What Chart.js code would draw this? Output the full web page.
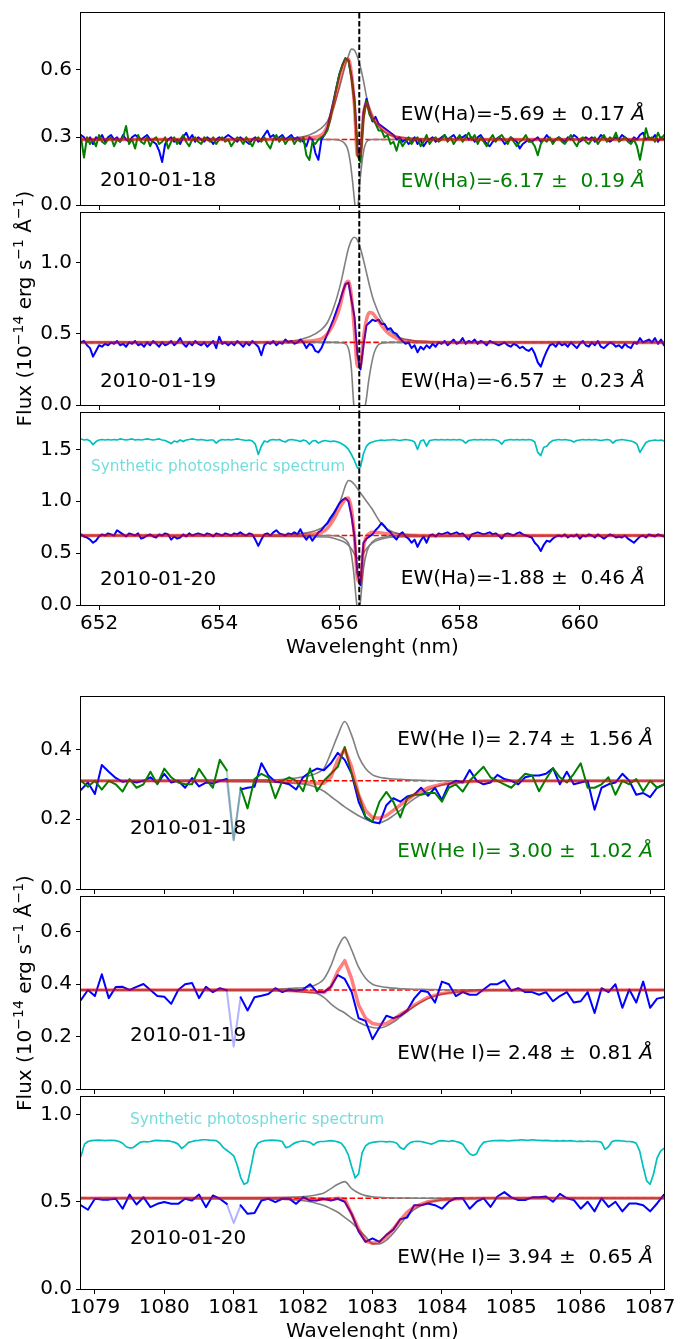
<!DOCTYPE html>
<html>
<head>
<meta charset="utf-8">
<script src="https://cdn.jsdelivr.net/npm/chart.js@4.4.0/dist/chart.umd.min.js"></script>
<style>
  body { margin: 0; background: #fff; width: 680px; height: 1339px; position: relative; overflow: hidden; }
  canvas { position: absolute; left: 0; }
</style>
</head>
<body>
<canvas id="p1" width="680" height="218" style="top:1px"></canvas>
<canvas id="p3" width="680" height="259" style="top:401px"></canvas>
<canvas id="p2" width="680" height="282" style="top:173px"></canvas>
<canvas id="p4" width="680" height="218" style="top:685px"></canvas>
<canvas id="p6" width="680" height="258" style="top:1085px"></canvas>
<canvas id="p5" width="680" height="282" style="top:857px"></canvas>
<script>
// ---- axes ----
const haRange = [651.70, 661.40];
const heRange = [1078.8, 1087.2];
const haTicks = [652, 654, 656, 658, 660];
const heTicks = [1079, 1080, 1081, 1082, 1083, 1084, 1085, 1086, 1087];
const yRanges = [[0, 0.85], [0, 1.35], [0, 1.85], [0, 0.55], [0, 0.733], [0, 1.1]];
const yTicks = [[0, 0.3, 0.6], [0, 0.5, 1.0], [0, 0.5, 1.0, 1.5], [0, 0.2, 0.4], [0, 0.2, 0.4, 0.6], [0, 0.5, 1.0]];
const haRest = 656.33;
const heMask = [1080.95, 1081.05];
const haCont = [0.29, 0.44, 0.67];
const heCont = [0.31, 0.378, 0.52];

// ---- H-alpha spectra (nm) ----
const haWave = [
  651.70,651.75,651.80,651.85,651.90,651.95,652.00,652.05,652.10,652.15,
  652.20,652.25,652.30,652.35,652.40,652.45,652.50,652.55,652.60,652.65,
  652.70,652.75,652.80,652.85,652.90,652.95,653.00,653.05,653.10,653.15,
  653.20,653.25,653.30,653.35,653.40,653.45,653.50,653.55,653.60,653.65,
  653.70,653.75,653.80,653.85,653.90,653.95,654.00,654.05,654.10,654.15,
  654.20,654.25,654.30,654.35,654.40,654.45,654.50,654.55,654.60,654.65,
  654.70,654.75,654.80,654.85,654.90,654.95,655.00,655.05,655.10,655.15,
  655.20,655.25,655.30,655.35,655.40,655.45,655.50,655.55,655.60,655.65,
  655.70,655.75,655.80,655.85,655.90,655.95,656.00,656.05,656.10,656.15,
  656.20,656.25,656.30,656.35,656.40,656.45,656.50,656.55,656.60,656.65,
  656.70,656.75,656.80,656.85,656.90,656.95,657.00,657.05,657.10,657.15,
  657.20,657.25,657.30,657.35,657.40,657.45,657.50,657.55,657.60,657.65,
  657.70,657.75,657.80,657.85,657.90,657.95,658.00,658.05,658.10,658.15,
  658.20,658.25,658.30,658.35,658.40,658.45,658.50,658.55,658.60,658.65,
  658.70,658.75,658.80,658.85,658.90,658.95,659.00,659.05,659.10,659.15,
  659.20,659.25,659.30,659.35,659.40,659.45,659.50,659.55,659.60,659.65,
  659.70,659.75,659.80,659.85,659.90,659.95,660.00,660.05,660.10,660.15,
  660.20,660.25,660.30,660.35,660.40,660.45,660.50,660.55,660.60,660.65,
  660.70,660.75,660.80,660.85,660.90,660.95,661.00,661.05,661.10,661.15,
  661.20,661.25,661.30,661.35,661.40
];
const ha18Blue = [
  0.31,0.30,0.28,0.30,0.27,0.30,0.29,0.31,0.28,0.30,
  0.31,0.29,0.30,0.28,0.31,0.29,0.28,0.30,0.31,0.30,
  0.29,0.30,0.31,0.29,0.28,0.27,0.24,0.19,0.27,0.29,
  0.30,0.28,0.29,0.27,0.30,0.32,0.29,0.31,0.28,0.30,
  0.29,0.28,0.30,0.29,0.27,0.29,0.30,0.29,0.30,0.31,
  0.30,0.29,0.28,0.30,0.29,0.28,0.27,0.29,0.30,0.28,
  0.29,0.31,0.33,0.30,0.31,0.29,0.30,0.31,0.29,0.30,
  0.31,0.29,0.30,0.29,0.28,0.26,0.30,0.29,0.23,0.20,
  0.29,0.31,0.34,0.40,0.46,0.52,0.58,0.62,0.65,0.64,
  0.57,0.47,0.25,0.21,0.41,0.47,0.41,0.37,0.39,0.36,
  0.35,0.34,0.33,0.32,0.31,0.29,0.30,0.28,0.29,0.27,
  0.28,0.30,0.27,0.29,0.26,0.28,0.29,0.30,0.28,0.29,
  0.30,0.31,0.29,0.30,0.31,0.29,0.30,0.30,0.31,0.29,
  0.30,0.28,0.30,0.31,0.29,0.27,0.26,0.28,0.29,0.30,
  0.29,0.27,0.28,0.30,0.29,0.28,0.25,0.27,0.28,0.29,
  0.28,0.29,0.30,0.28,0.29,0.31,0.29,0.28,0.29,0.30,
  0.29,0.28,0.30,0.29,0.31,0.30,0.28,0.29,0.30,0.29,
  0.30,0.28,0.29,0.31,0.30,0.29,0.28,0.29,0.30,0.29,
  0.31,0.30,0.29,0.28,0.30,0.29,0.31,0.32,0.29,0.30,
  0.29,0.31,0.28,0.30,0.29
];
const ha18Green = [
  0.30,0.21,0.30,0.27,0.29,0.26,0.31,0.28,0.27,0.29,
  0.30,0.26,0.29,0.28,0.30,0.35,0.27,0.29,0.25,0.31,
  0.28,0.27,0.30,0.26,0.29,0.30,0.27,0.28,0.30,0.25,
  0.28,0.30,0.27,0.29,0.31,0.28,0.26,0.29,0.30,0.28,
  0.27,0.30,0.29,0.28,0.30,0.27,0.29,0.30,0.28,0.29,
  0.26,0.28,0.30,0.29,0.27,0.30,0.28,0.26,0.29,0.30,
  0.28,0.30,0.27,0.25,0.29,0.31,0.28,0.30,0.27,0.29,
  0.30,0.27,0.29,0.28,0.30,0.22,0.20,0.28,0.27,0.29,
  0.30,0.31,0.33,0.38,0.45,0.52,0.58,0.62,0.65,0.64,
  0.56,0.45,0.22,0.19,0.38,0.46,0.40,0.38,0.36,0.33,
  0.33,0.30,0.31,0.27,0.28,0.24,0.29,0.26,0.28,0.30,
  0.27,0.29,0.30,0.26,0.28,0.31,0.27,0.29,0.30,0.28,
  0.29,0.31,0.28,0.30,0.27,0.29,0.31,0.28,0.30,0.32,
  0.29,0.31,0.27,0.30,0.28,0.26,0.29,0.31,0.28,0.30,
  0.31,0.29,0.27,0.30,0.28,0.26,0.28,0.29,0.31,0.28,
  0.28,0.26,0.22,0.27,0.29,0.28,0.30,0.27,0.29,0.30,
  0.28,0.27,0.29,0.31,0.28,0.26,0.29,0.30,0.28,0.27,
  0.29,0.30,0.27,0.29,0.31,0.28,0.30,0.29,0.32,0.28,
  0.29,0.30,0.28,0.27,0.29,0.26,0.20,0.27,0.34,0.29,
  0.30,0.28,0.32,0.29,0.31
];
const ha19Blue = [
  0.44,0.45,0.42,0.40,0.34,0.38,0.42,0.41,0.43,0.42,
  0.44,0.43,0.45,0.42,0.43,0.41,0.44,0.43,0.45,0.42,
  0.43,0.41,0.44,0.42,0.45,0.43,0.41,0.44,0.42,0.43,
  0.45,0.42,0.44,0.47,0.43,0.41,0.44,0.42,0.45,0.43,
  0.42,0.44,0.41,0.43,0.45,0.40,0.48,0.43,0.44,0.42,
  0.44,0.42,0.45,0.43,0.41,0.44,0.42,0.45,0.43,0.41,
  0.35,0.42,0.44,0.43,0.45,0.42,0.44,0.43,0.46,0.44,
  0.45,0.43,0.44,0.46,0.44,0.40,0.43,0.42,0.38,0.37,
  0.40,0.45,0.50,0.55,0.60,0.66,0.72,0.79,0.85,0.86,
  0.74,0.62,0.35,0.25,0.42,0.56,0.58,0.60,0.59,0.60,
  0.57,0.57,0.53,0.54,0.51,0.50,0.47,0.45,0.43,0.44,
  0.40,0.42,0.37,0.41,0.39,0.42,0.40,0.43,0.41,0.44,
  0.43,0.45,0.42,0.44,0.46,0.43,0.44,0.47,0.43,0.45,
  0.44,0.46,0.43,0.45,0.44,0.42,0.45,0.44,0.43,0.42,
  0.43,0.44,0.42,0.41,0.43,0.42,0.40,0.41,0.39,0.38,
  0.40,0.36,0.30,0.27,0.33,0.38,0.42,0.43,0.41,0.44,
  0.42,0.43,0.41,0.44,0.42,0.40,0.43,0.45,0.42,0.41,
  0.44,0.42,0.45,0.41,0.40,0.42,0.44,0.43,0.41,0.42,
  0.40,0.43,0.41,0.40,0.44,0.43,0.47,0.44,0.45,0.46,
  0.44,0.47,0.43,0.46,0.42
];
const ha20Blue = [
  0.68,0.66,0.65,0.63,0.60,0.62,0.66,0.68,0.67,0.69,
  0.68,0.67,0.72,0.70,0.68,0.66,0.69,0.68,0.67,0.69,
  0.64,0.65,0.67,0.68,0.66,0.65,0.68,0.67,0.69,0.68,
  0.63,0.66,0.64,0.65,0.68,0.66,0.69,0.67,0.68,0.69,
  0.68,0.67,0.69,0.68,0.66,0.69,0.68,0.67,0.69,0.68,
  0.67,0.69,0.68,0.70,0.68,0.67,0.69,0.68,0.63,0.57,
  0.63,0.68,0.69,0.67,0.70,0.72,0.69,0.68,0.67,0.69,
  0.68,0.70,0.68,0.73,0.67,0.63,0.67,0.62,0.66,0.70,
  0.72,0.76,0.79,0.84,0.88,0.93,0.98,1.01,1.03,1.00,
  0.86,0.66,0.30,0.19,0.60,0.64,0.66,0.68,0.72,0.75,
  0.79,0.76,0.72,0.70,0.66,0.63,0.68,0.70,0.66,0.64,
  0.60,0.63,0.56,0.62,0.66,0.60,0.67,0.68,0.66,0.69,
  0.68,0.69,0.70,0.68,0.69,0.70,0.68,0.69,0.66,0.63,
  0.68,0.69,0.70,0.69,0.68,0.69,0.70,0.68,0.69,0.67,
  0.64,0.68,0.69,0.68,0.67,0.69,0.70,0.68,0.67,0.66,
  0.65,0.60,0.57,0.52,0.58,0.62,0.61,0.64,0.66,0.67,
  0.66,0.68,0.65,0.67,0.66,0.68,0.64,0.67,0.66,0.68,
  0.67,0.65,0.68,0.66,0.64,0.66,0.68,0.67,0.65,0.66,
  0.65,0.67,0.64,0.62,0.60,0.63,0.66,0.67,0.65,0.68,
  0.67,0.66,0.68,0.67,0.66
];
const ha20Synth = [
  1.60,1.59,1.595,1.58,1.545,1.575,1.59,1.595,1.59,1.595,
  1.59,1.595,1.59,1.60,1.595,1.59,1.595,1.60,1.59,1.595,
  1.59,1.595,1.60,1.595,1.59,1.595,1.60,1.59,1.585,1.57,
  1.555,1.58,1.57,1.59,1.575,1.59,1.595,1.60,1.595,1.59,
  1.595,1.59,1.585,1.59,1.59,1.56,1.585,1.595,1.59,1.595,
  1.59,1.595,1.60,1.595,1.59,1.585,1.59,1.58,1.55,1.45,
  1.53,1.58,1.57,1.59,1.595,1.59,1.595,1.58,1.57,1.59,
  1.595,1.59,1.585,1.575,1.59,1.58,1.55,1.58,1.585,1.56,
  1.575,1.585,1.58,1.575,1.58,1.575,1.565,1.55,1.53,1.50,
  1.45,1.39,1.32,1.33,1.46,1.53,1.56,1.57,1.58,1.585,
  1.59,1.585,1.59,1.59,1.595,1.59,1.585,1.59,1.595,1.59,
  1.585,1.57,1.50,1.58,1.59,1.53,1.585,1.59,1.595,1.59,
  1.595,1.59,1.595,1.59,1.595,1.59,1.595,1.585,1.56,1.585,
  1.59,1.595,1.59,1.595,1.59,1.595,1.59,1.595,1.59,1.58,
  1.55,1.585,1.59,1.595,1.59,1.595,1.59,1.595,1.59,1.595,
  1.59,1.57,1.47,1.44,1.52,1.53,1.565,1.585,1.59,1.595,
  1.59,1.595,1.59,1.585,1.57,1.585,1.59,1.595,1.59,1.595,
  1.59,1.595,1.59,1.585,1.59,1.595,1.59,1.56,1.585,1.59,
  1.595,1.59,1.585,1.58,1.57,1.55,1.47,1.52,1.565,1.58,
  1.585,1.59,1.585,1.59,1.58
];

// ---- H-alpha fits and components ----
const haFitWave = [651.70, 654.50, 655.20, 655.50, 655.70, 655.80, 655.90, 656.00, 656.05, 656.10,
  656.15, 656.20, 656.25, 656.30, 656.35, 656.40, 656.45, 656.50, 656.55, 656.60,
  656.70, 656.80, 656.90, 657.00, 657.20, 657.50, 658.00, 661.40];
const ha18Fit = [0.29, 0.29, 0.292, 0.298, 0.31, 0.35, 0.44, 0.55, 0.60, 0.64, 0.645, 0.58, 0.44, 0.22,
  0.23, 0.40, 0.45, 0.42, 0.39, 0.37, 0.34, 0.32, 0.305, 0.298, 0.292, 0.29, 0.29, 0.29];
const ha18Emis = [0.29, 0.29, 0.295, 0.31, 0.34, 0.37, 0.43, 0.52, 0.57, 0.62, 0.66, 0.69, 0.685, 0.655,
  0.61, 0.55, 0.48, 0.43, 0.39, 0.365, 0.335, 0.315, 0.305, 0.30, 0.295, 0.292, 0.29, 0.29];
const ha18AbsWave = [651.70, 655.90, 656.00, 656.08, 656.14, 656.18, 656.22, 656.25, 656.28, 656.31,
  656.34, 656.38, 656.42, 656.47, 656.55, 661.40];
const ha18Abs = [0.29, 0.29, 0.287, 0.275, 0.245, 0.19, 0.10, 0.02, -0.05, 0.0, 0.10, 0.20, 0.26, 0.285, 0.29, 0.29];

const ha19Fit = [0.44, 0.44, 0.443, 0.45, 0.465, 0.50, 0.57, 0.68, 0.77, 0.85, 0.87, 0.76, 0.52, 0.27,
  0.28, 0.47, 0.60, 0.65, 0.645, 0.62, 0.56, 0.51, 0.48, 0.46, 0.447, 0.442, 0.44, 0.44];
const ha19Emis = [0.44, 0.44, 0.45, 0.48, 0.53, 0.58, 0.68, 0.82, 0.91, 1.01, 1.10, 1.16, 1.18, 1.16,
  1.10, 1.02, 0.93, 0.84, 0.76, 0.70, 0.60, 0.54, 0.50, 0.475, 0.455, 0.445, 0.44, 0.44];
const ha19AbsWave = [651.70, 655.90, 656.00, 656.10, 656.16, 656.20, 656.23, 656.26, 656.33, 656.40,
  656.44, 656.48, 656.53, 656.58, 656.64, 656.72, 656.85, 661.40];
const ha19Abs = [0.44, 0.44, 0.438, 0.43, 0.38, 0.25, 0.05, -0.1, -0.2, -0.05, 0.02, 0.15, 0.28, 0.37, 0.42, 0.437, 0.44, 0.44];

const ha20Fit = [0.67, 0.67, 0.672, 0.68, 0.70, 0.74, 0.82, 0.93, 0.98, 1.02, 1.03, 0.92, 0.66, 0.25,
  0.22, 0.55, 0.66, 0.69, 0.70, 0.70, 0.695, 0.685, 0.68, 0.675, 0.672, 0.67, 0.67, 0.67];
const ha20Emis = [0.67, 0.67, 0.68, 0.70, 0.74, 0.78, 0.86, 0.98, 1.06, 1.15, 1.20, 1.19, 1.16, 1.12,
  1.08, 1.04, 1.00, 0.96, 0.92, 0.87, 0.78, 0.73, 0.70, 0.685, 0.675, 0.67, 0.67, 0.67];
const ha20AbsWave = [651.70, 655.80, 656.00, 656.10, 656.16, 656.20, 656.24, 656.28, 656.32, 656.36,
  656.40, 656.46, 656.55, 656.70, 656.90, 661.40];
const ha20AbsNarrow = [0.67, 0.67, 0.66, 0.63, 0.58, 0.48, 0.30, 0.05, -0.1, 0.1, 0.35, 0.52, 0.61, 0.65, 0.665, 0.67];
const ha20AbsBroad = [0.67, 0.655, 0.625, 0.60, 0.57, 0.54, 0.50, 0.46, 0.45, 0.47, 0.50, 0.55, 0.60, 0.635, 0.655, 0.67];

// ---- He I spectra (nm) ----
const heWave = [
  1078.8,1078.9,1079.0,1079.1,1079.2,1079.3,1079.4,1079.5,1079.6,1079.7,
  1079.8,1079.9,1080.0,1080.1,1080.2,1080.3,1080.4,1080.5,1080.6,1080.7,
  1080.8,1080.9,1081.0,1081.1,1081.2,1081.3,1081.4,1081.5,1081.6,1081.7,
  1081.8,1081.9,1082.0,1082.1,1082.2,1082.3,1082.4,1082.5,1082.6,1082.7,
  1082.8,1082.9,1083.0,1083.1,1083.2,1083.3,1083.4,1083.5,1083.6,1083.7,
  1083.8,1083.9,1084.0,1084.1,1084.2,1084.3,1084.4,1084.5,1084.6,1084.7,
  1084.8,1084.9,1085.0,1085.1,1085.2,1085.3,1085.4,1085.5,1085.6,1085.7,
  1085.8,1085.9,1086.0,1086.1,1086.2,1086.3,1086.4,1086.5,1086.6,1086.7,
  1086.8,1086.9,1087.0,1087.1,1087.2
];
const he18Blue = [
  0.284,0.305,0.272,0.355,0.336,0.318,0.307,0.31,0.305,0.31,
  0.32,0.302,0.33,0.305,0.31,0.29,0.318,0.294,0.305,0.302,
  0.31,0.315,0.14,0.285,0.29,0.293,0.36,0.325,0.307,0.305,
  0.30,0.285,0.32,0.335,0.345,0.34,0.36,0.39,0.37,0.33,
  0.25,0.205,0.192,0.188,0.24,0.26,0.25,0.265,0.27,0.29,
  0.267,0.29,0.255,0.30,0.31,0.305,0.341,0.31,0.30,0.305,
  0.327,0.315,0.31,0.30,0.32,0.325,0.325,0.33,0.346,0.30,
  0.336,0.30,0.305,0.31,0.227,0.29,0.30,0.305,0.33,0.31,
  0.27,0.275,0.263,0.29,0.30
];
const he18Green = [
  0.31,0.293,0.31,0.285,0.31,0.30,0.279,0.315,0.29,0.30,
  0.336,0.30,0.345,0.32,0.305,0.30,0.30,0.344,0.315,0.29,
  0.37,0.34,0.14,0.29,0.231,0.315,0.33,0.32,0.26,0.31,
  0.32,0.31,0.28,0.345,0.28,0.31,0.33,0.35,0.407,0.33,
  0.27,0.207,0.193,0.25,0.278,0.25,0.205,0.26,0.27,0.27,
  0.275,0.275,0.25,0.29,0.30,0.279,0.31,0.33,0.35,0.32,
  0.31,0.30,0.29,0.31,0.33,0.325,0.28,0.315,0.346,0.32,
  0.305,0.33,0.36,0.29,0.29,0.30,0.32,0.27,0.31,0.30,
  0.315,0.28,0.31,0.29,0.30
];
const he19Blue = [
  0.34,0.378,0.355,0.438,0.347,0.389,0.39,0.378,0.39,0.401,
  0.378,0.355,0.352,0.325,0.378,0.40,0.405,0.347,0.39,0.37,
  0.385,0.377,0.162,0.35,0.30,0.35,0.356,0.363,0.385,0.37,
  0.38,0.375,0.38,0.40,0.37,0.37,0.39,0.435,0.42,0.37,
  0.27,0.26,0.19,0.235,0.28,0.27,0.28,0.30,0.345,0.375,
  0.37,0.33,0.41,0.40,0.355,0.37,0.36,0.36,0.38,0.40,
  0.40,0.415,0.375,0.385,0.37,0.37,0.36,0.37,0.335,0.355,
  0.37,0.33,0.335,0.37,0.29,0.385,0.37,0.40,0.31,0.38,
  0.33,0.41,0.31,0.345,0.35
];
const he20Blue = [
  0.479,0.454,0.517,0.512,0.512,0.517,0.46,0.541,0.484,0.526,
  0.469,0.488,0.498,0.488,0.488,0.517,0.507,0.541,0.469,0.536,
  0.517,0.488,0.378,0.479,0.431,0.435,0.507,0.517,0.498,0.517,
  0.517,0.488,0.526,0.507,0.507,0.517,0.507,0.517,0.50,0.43,
  0.33,0.27,0.29,0.27,0.31,0.34,0.40,0.41,0.48,0.48,
  0.49,0.48,0.46,0.50,0.52,0.52,0.46,0.50,0.52,0.47,
  0.53,0.555,0.525,0.51,0.51,0.525,0.525,0.53,0.50,0.545,
  0.52,0.51,0.46,0.50,0.445,0.52,0.47,0.50,0.445,0.49,
  0.49,0.48,0.445,0.49,0.54
];
const heSynthWave = [
  1078.80,1078.85,1078.90,1078.95,1079.00,1079.05,1079.10,1079.15,1079.20,1079.25,
  1079.30,1079.35,1079.40,1079.45,1079.50,1079.55,1079.60,1079.65,1079.70,1079.75,
  1079.80,1079.85,1079.90,1079.95,1080.00,1080.05,1080.10,1080.15,1080.20,1080.25,
  1080.30,1080.35,1080.40,1080.45,1080.50,1080.55,1080.60,1080.65,1080.70,1080.75,
  1080.80,1080.85,1080.90,1080.95,1081.00,1081.05,1081.10,1081.15,1081.20,1081.25,
  1081.30,1081.35,1081.40,1081.45,1081.50,1081.55,1081.60,1081.65,1081.70,1081.75,
  1081.80,1081.85,1081.90,1081.95,1082.00,1082.05,1082.10,1082.15,1082.20,1082.25,
  1082.30,1082.35,1082.40,1082.45,1082.50,1082.55,1082.60,1082.65,1082.70,1082.75,
  1082.80,1082.85,1082.90,1082.95,1083.00,1083.05,1083.10,1083.15,1083.20,1083.25,
  1083.30,1083.35,1083.40,1083.45,1083.50,1083.55,1083.60,1083.65,1083.70,1083.75,
  1083.80,1083.85,1083.90,1083.95,1084.00,1084.05,1084.10,1084.15,1084.20,1084.25,
  1084.30,1084.35,1084.40,1084.45,1084.50,1084.55,1084.60,1084.65,1084.70,1084.75,
  1084.80,1084.85,1084.90,1084.95,1085.00,1085.05,1085.10,1085.15,1085.20,1085.25,
  1085.30,1085.35,1085.40,1085.45,1085.50,1085.55,1085.60,1085.65,1085.70,1085.75,
  1085.80,1085.85,1085.90,1085.95,1086.00,1086.05,1086.10,1086.15,1086.20,1086.25,
  1086.30,1086.35,1086.40,1086.45,1086.50,1086.55,1086.60,1086.65,1086.70,1086.75,
  1086.80,1086.85,1086.90,1086.95,1087.00,1087.05,1087.10,1087.15,1087.20
];
const he20Synth = [
  0.76,0.83,0.845,0.85,0.852,0.853,0.852,0.85,0.851,0.852,
  0.85,0.845,0.835,0.815,0.808,0.81,0.825,0.84,0.845,0.843,
  0.845,0.85,0.852,0.85,0.848,0.85,0.845,0.84,0.83,0.805,
  0.82,0.84,0.845,0.85,0.852,0.855,0.855,0.853,0.852,0.85,
  0.835,0.81,0.795,0.78,0.763,0.71,0.64,0.60,0.61,0.70,
  0.80,0.835,0.845,0.85,0.852,0.853,0.852,0.85,0.845,0.81,
  0.815,0.83,0.84,0.845,0.848,0.845,0.84,0.825,0.84,0.845,
  0.845,0.848,0.85,0.848,0.843,0.835,0.81,0.77,0.70,0.636,
  0.66,0.78,0.82,0.835,0.84,0.843,0.845,0.845,0.843,0.845,
  0.842,0.835,0.81,0.80,0.825,0.84,0.845,0.846,0.845,0.84,
  0.835,0.83,0.838,0.848,0.85,0.848,0.845,0.85,0.845,0.84,
  0.83,0.80,0.775,0.765,0.775,0.815,0.84,0.845,0.848,0.85,
  0.85,0.852,0.85,0.848,0.85,0.852,0.853,0.855,0.853,0.852,
  0.855,0.853,0.852,0.85,0.852,0.85,0.848,0.85,0.848,0.85,
  0.848,0.85,0.848,0.845,0.847,0.845,0.848,0.845,0.846,0.845,
  0.84,0.80,0.815,0.845,0.85,0.85,0.848,0.846,0.845,0.843,
  0.835,0.79,0.70,0.62,0.60,0.66,0.75,0.79,0.805
];

// ---- He I fits and components ----
const heFitWave = [1078.8, 1081.5, 1081.9, 1082.1, 1082.2, 1082.3, 1082.4, 1082.5, 1082.6, 1082.7,
  1082.8, 1082.9, 1083.0, 1083.1, 1083.2, 1083.3, 1083.4, 1083.5, 1083.6, 1083.8, 1084.0, 1084.3, 1084.7, 1087.2];
const he18Fit = [0.31,0.31,0.308,0.305,0.303,0.303,0.32,0.37,0.40,0.35,0.27,0.225,0.205,0.203,0.21,0.225,0.24,0.255,0.27,0.29,0.30,0.307,0.31,0.31];
const he18Emis = [0.31,0.312,0.318,0.325,0.332,0.345,0.39,0.44,0.48,0.44,0.38,0.345,0.327,0.32,0.317,0.315,0.314,0.313,0.312,0.311,0.31,0.31,0.31,0.31];
const he18Abs = [0.31,0.307,0.302,0.297,0.29,0.28,0.265,0.25,0.235,0.222,0.21,0.2,0.192,0.19,0.197,0.21,0.225,0.243,0.258,0.283,0.298,0.306,0.309,0.31];
const he19Fit = [0.378,0.378,0.375,0.372,0.37,0.368,0.39,0.45,0.49,0.42,0.32,0.27,0.25,0.245,0.25,0.265,0.285,0.30,0.32,0.35,0.365,0.373,0.377,0.378];
const he19Emis = [0.378,0.38,0.385,0.39,0.40,0.42,0.47,0.54,0.58,0.53,0.465,0.423,0.40,0.392,0.388,0.385,0.383,0.382,0.381,0.38,0.379,0.378,0.378,0.378];
const he19Abs = [0.378,0.376,0.372,0.368,0.365,0.35,0.325,0.305,0.29,0.27,0.255,0.242,0.235,0.233,0.24,0.255,0.275,0.295,0.315,0.345,0.362,0.372,0.377,0.378];
const he20Fit = [0.52,0.52,0.519,0.517,0.515,0.514,0.515,0.52,0.515,0.43,0.345,0.275,0.262,0.27,0.30,0.345,0.395,0.44,0.47,0.50,0.512,0.518,0.52,0.52];
const he20Emis = [0.52,0.522,0.527,0.533,0.54,0.55,0.575,0.60,0.615,0.575,0.55,0.535,0.528,0.525,0.523,0.522,0.521,0.521,0.52,0.52,0.52,0.52,0.52,0.52];
const he20Abs = [0.52,0.518,0.51,0.50,0.49,0.478,0.46,0.44,0.41,0.38,0.34,0.30,0.26,0.258,0.28,0.32,0.37,0.42,0.455,0.495,0.51,0.517,0.52,0.52];

// ---- styles ----
const FONT = "'DejaVu Sans', sans-serif";
const BLUE = '#0000ff', GREEN = '#008000', GRAY = '#808080', CYAN = '#00bfbf';
const FIT = 'rgba(255,0,0,0.5)';

const pts = (xs, ys) => xs.map((x, i) => ({ x: x, y: ys[i] }));
const inMask = v => v >= heMask[0] && v <= heMask[1];

function line(xs, ys, color, width, extra) {
  return Object.assign({
    data: pts(xs, ys), borderColor: color, borderWidth: width, pointRadius: 0,
    fill: false, clip: 0, borderJoinStyle: 'round', borderCapStyle: 'round'
  }, extra || {});
}
const smooth = { cubicInterpolationMode: 'monotone' };
const gray = (xs, ys) => line(xs, ys, GRAY, 1.6, smooth);
const cont = (range, v) => line(range, [v, v], '#ff0000', 1.6, { borderDash: [5.5, 2.4], borderCapStyle: 'butt' });
const masked = (xs, ys, color, pale) => line(xs, ys, color, 2, {
  segment: { borderColor: c => (inMask(c.p0.parsed.x) || inMask(c.p1.parsed.x)) ? pale : undefined }
});

// text helpers
function rich(ctx, parts, x, y, align) {
  let w = 0;
  const sized = parts.map(p => {
    ctx.font = (p.italic ? 'italic ' : '') + p.size + 'px ' + FONT;
    const pw = ctx.measureText(p.t).width;
    w += pw;
    return { t: p.t, size: p.size, italic: p.italic, dy: p.dy || 0, w: pw };
  });
  let cx = align === 'right' ? x - w : (align === 'center' ? x - w / 2 : x);
  sized.forEach(p => {
    ctx.font = (p.italic ? 'italic ' : '') + p.size + 'px ' + FONT;
    ctx.fillText(p.t, cx, y + p.dy);
    cx += p.w;
  });
}
const ew = (s) => [{ t: s + ' ', size: 20 }, { t: 'Å', size: 20, italic: true }];
const yLabel = [
  { t: 'Flux (10', size: 20 }, { t: '\u221214', size: 14, dy: -8 }, { t: ' erg s', size: 20 },
  { t: '\u22121', size: 14, dy: -8 }, { t: ' Å', size: 20 }, { t: '\u22121', size: 14, dy: -8 }, { t: ')', size: 20 }
];

function decor(spec) {
  return {
    id: 'decor',
    afterDatasetsDraw(chart) {
      const { ctx, chartArea: a, scales } = chart;
      ctx.save();
      if (spec.rest !== undefined) {
        const x = scales.x.getPixelForValue(haRest);
        ctx.strokeStyle = '#000';
        ctx.lineWidth = 2;
        ctx.setLineDash([5.5, 2.4]);
        ctx.beginPath();
        ctx.moveTo(x, a.top);
        ctx.lineTo(x, a.bottom + spec.rest);
        ctx.stroke();
        ctx.setLineDash([]);
      }
      ctx.strokeStyle = '#000';
      ctx.lineWidth = 1;
      ctx.strokeRect(Math.round(a.left) - 0.5, Math.round(a.top) - 0.5,
        Math.round(a.right - a.left) + 1, Math.round(a.bottom - a.top) + 1);
      ctx.textBaseline = 'alphabetic';
      (spec.texts || []).forEach(t => {
        ctx.fillStyle = t.color || '#000';
        rich(ctx, t.parts, t.x, a.top + t.dy, t.align || 'left');
      });
      if (spec.xTitle) {
        ctx.fillStyle = '#000';
        rich(ctx, [{ t: 'Wavelenght (nm)', size: 20 }], (a.left + a.right) / 2, a.bottom + 48, 'center');
      }
      if (spec.yTitle) {
        ctx.fillStyle = '#000';
        ctx.translate(31, a.top + spec.yTitle);
        ctx.rotate(-Math.PI / 2);
        rich(ctx, yLabel, 0, 0, 'center');
      }
      ctx.restore();
    }
  };
}

function panel(id, p) {
  new Chart(document.getElementById(id), {
    type: 'line',
    data: { datasets: p.datasets },
    options: {
      responsive: false, animation: false, events: [],
      layout: { padding: { top: p.top || 12, right: 16, left: 0, bottom: 0 } },
      plugins: { legend: { display: false }, tooltip: { enabled: false } },
      scales: {
        x: {
          type: 'linear', min: p.xRange[0], max: p.xRange[1],
          afterBuildTicks: s => { s.ticks = p.xTicks.map(v => ({ value: v })); },
          afterFit: s => { s.height = p.bottom; s.paddingLeft = 0; s.paddingRight = 0; },
          grid: { drawOnChartArea: false, tickLength: 5, color: '#000', lineWidth: 1 },
          border: { display: false },
          ticks: { display: p.showX, color: '#000', font: { family: FONT, size: 20 }, padding: 2,
            maxRotation: 0, autoSkip: false, callback: v => String(v) }
        },
        y: {
          type: 'linear', min: p.yRange[0], max: p.yRange[1],
          afterBuildTicks: s => { s.ticks = p.yTicks.map(v => ({ value: v })); },
          afterFit: s => { s.width = 81; s.paddingTop = 0; s.paddingBottom = 0; },
          grid: { drawOnChartArea: false, tickLength: 5, color: '#000', lineWidth: 1 },
          border: { display: false },
          ticks: { color: '#000', font: { family: FONT, size: 20 }, padding: 4, callback: v => v.toFixed(1) }
        }
      }
    },
    plugins: [decor(p.decor)]
  });
}

// ---- H-alpha panels ----
panel('p1', {
  xRange: haRange, xTicks: haTicks, yRange: yRanges[0], yTicks: yTicks[0], bottom: 14, showX: false,
  datasets: [
    line(haFitWave, ha18Fit, FIT, 3.5, smooth),
    line(haWave, ha18Green, GREEN, 2),
    line(haWave, ha18Blue, BLUE, 2),
    gray(haFitWave, ha18Emis),
    gray(ha18AbsWave, ha18Abs),
    cont(haRange, haCont[0])
  ],
  decor: { rest: 8, texts: [
    { parts: [{ t: '2010-01-18', size: 20 }], x: 100, dy: 173 },
    { parts: ew('EW(Ha)=-5.69 ±  0.17'), x: 645, dy: 107, align: 'right' },
    { parts: ew('EW(Ha)=-6.17 ±  0.19'), x: 645, dy: 174, align: 'right', color: GREEN }
  ] }
});
panel('p2', {
  xRange: haRange, xTicks: haTicks, yRange: yRanges[1], yTicks: yTicks[1], bottom: 50, top: 40, showX: false,
  datasets: [
    line(haFitWave, ha19Fit, FIT, 3.5, smooth),
    line(haWave, ha19Blue, BLUE, 2),
    gray(haFitWave, ha19Emis),
    gray(ha19AbsWave, ha19Abs),
    cont(haRange, haCont[1])
  ],
  decor: { rest: 8, yTitle: 95.5, texts: [
    { parts: [{ t: '2010-01-19', size: 20 }], x: 100, dy: 174 },
    { parts: ew('EW(Ha)=-6.57 ±  0.23'), x: 645, dy: 174, align: 'right' }
  ] }
});
panel('p3', {
  xRange: haRange, xTicks: haTicks, yRange: yRanges[2], yTicks: yTicks[2], bottom: 55, showX: true,
  datasets: [
    line(haFitWave, ha20Fit, FIT, 3.5, smooth),
    line(haWave, ha20Blue, BLUE, 2),
    line(haWave, ha20Synth, CYAN, 1.7),
    gray(haFitWave, ha20Emis),
    gray(ha20AbsWave, ha20AbsNarrow),
    gray(ha20AbsWave, ha20AbsBroad),
    cont(haRange, haCont[2])
  ],
  decor: { rest: 0, xTitle: true, texts: [
    { parts: [{ t: 'Synthetic photospheric spectrum', size: 15.3 }], x: 91, dy: 58, color: 'rgba(0,191,191,0.55)' },
    { parts: [{ t: '2010-01-20', size: 20 }], x: 100, dy: 172 },
    { parts: ew('EW(Ha)=-1.88 ±  0.46'), x: 645, dy: 171, align: 'right' }
  ] }
});

// ---- He I panels ----
panel('p4', {
  xRange: heRange, xTicks: heTicks, yRange: yRanges[3], yTicks: yTicks[3], bottom: 14, showX: false,
  datasets: [
    line(heFitWave, he18Fit, FIT, 3.5),
    masked(heWave, he18Green, GREEN, 'rgba(0,128,0,0.3)'),
    masked(heWave, he18Blue, BLUE, 'rgba(0,0,255,0.3)'),
    gray(heFitWave, he18Emis),
    gray(heFitWave, he18Abs),
    cont(heRange, heCont[0])
  ],
  decor: { texts: [
    { parts: [{ t: '2010-01-18', size: 20 }], x: 130, dy: 137 },
    { parts: ew('EW(He I)= 2.74 ±  1.56'), x: 653, dy: 48, align: 'right' },
    { parts: ew('EW(He I)= 3.00 ±  1.02'), x: 653, dy: 160, align: 'right', color: GREEN }
  ] }
});
panel('p5', {
  xRange: heRange, xTicks: heTicks, yRange: yRanges[4], yTicks: yTicks[4], bottom: 50, top: 40, showX: false,
  datasets: [
    line(heFitWave, he19Fit, FIT, 3.5),
    masked(heWave, he19Blue, BLUE, 'rgba(0,0,255,0.3)'),
    gray(heFitWave, he19Emis),
    gray(heFitWave, he19Abs),
    cont(heRange, heCont[1])
  ],
  decor: { yTitle: 96, texts: [
    { parts: [{ t: '2010-01-19', size: 20 }], x: 130, dy: 144 },
    { parts: ew('EW(He I)= 2.48 ±  0.81'), x: 653, dy: 162, align: 'right' }
  ] }
});
panel('p6', {
  xRange: heRange, xTicks: heTicks, yRange: yRanges[5], yTicks: yTicks[5], bottom: 54, showX: true,
  datasets: [
    line(heFitWave, he20Fit, FIT, 3.5),
    masked(heWave, he20Blue, BLUE, 'rgba(0,0,255,0.3)'),
    line(heSynthWave, he20Synth, CYAN, 1.7),
    gray(heFitWave, he20Emis),
    gray(heFitWave, he20Abs),
    cont(heRange, heCont[2])
  ],
  decor: { xTitle: true, texts: [
    { parts: [{ t: 'Synthetic photospheric spectrum', size: 15.3 }], x: 130, dy: 27, color: 'rgba(0,191,191,0.55)' },
    { parts: [{ t: '2010-01-20', size: 20 }], x: 130, dy: 147 },
    { parts: ew('EW(He I)= 3.94 ±  0.65'), x: 653, dy: 166, align: 'right' }
  ] }
});
</script>
</body>
</html>
